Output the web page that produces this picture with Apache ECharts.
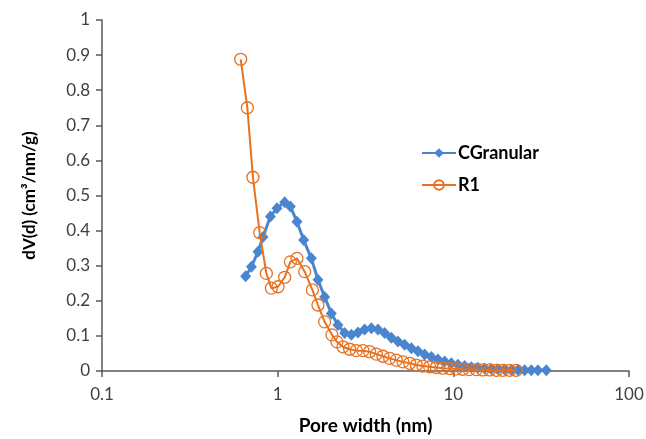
<!DOCTYPE html>
<html>
<head>
<meta charset="utf-8">
<script src="https://cdn.jsdelivr.net/npm/echarts@6/dist/echarts.min.js"></script>
<style>html,body{margin:0;padding:0;background:#fff;}#c{width:646px;height:439px;}</style>
</head>
<body>
<div id="c"></div>
<script>
const cgPoreWidth = [0.657,0.709,0.773,0.825,0.909,0.991,1.096,1.181,1.288,1.406,1.555,1.696,1.851,2.021,2.204,2.407,2.627,2.864,3.127,3.415,3.724,4.064,4.438,4.838,5.283,5.768,6.288,6.866,7.497,8.174,8.924,9.741,10.62,11.60,12.66,13.80,15.07,16.46,17.94,19.59,21.38,23.32,25.46,27.79,30.30,33.82];
const cgValues = [0.27,0.297,0.34,0.382,0.44,0.464,0.481,0.469,0.425,0.373,0.321,0.26,0.211,0.164,0.131,0.108,0.103,0.11,0.118,0.122,0.118,0.108,0.095,0.084,0.075,0.065,0.056,0.047,0.04,0.033,0.027,0.022,0.018,0.014,0.011,0.009,0.007,0.006,0.005,0.004,0.003,0.003,0.002,0.002,0.002,0.002];
const r1PoreWidth = [0.616,0.672,0.723,0.790,0.862,0.921,1.004,1.096,1.181,1.288,1.425,1.576,1.696,1.851,2.037,2.175,2.353,2.569,2.805,3.058,3.339,3.646,3.975,4.340,4.738,5.166,5.640,6.157,6.714,7.33,8.0,8.73,9.54,10.4,11.3,12.3,13.5,14.7,16.1,17.6,19.1,20.9,22.8];
const r1Values = [0.888,0.75,0.552,0.394,0.278,0.236,0.24,0.267,0.311,0.321,0.283,0.231,0.188,0.14,0.103,0.083,0.069,0.062,0.058,0.058,0.055,0.048,0.042,0.036,0.031,0.026,0.022,0.017,0.014,0.012,0.010,0.008,0.007,0.006,0.005,0.004,0.004,0.003,0.003,0.002,0.002,0.002,0.002];
const xTicks = [0.1, 1, 10, 100];
const yTicks = [0,0.1,0.2,0.3,0.4,0.5,0.6,0.7,0.8,0.9,1];
const seriesNames = ['CGranular', 'R1'];

const FONT = 'Lato, "Open Sans", sans-serif';
const AXIS_COLOR = '#595959';
const chart = echarts.init(document.getElementById('c'), null, {renderer: 'canvas'});
chart.setOption({
  animation: false,
  backgroundColor: '#fff',
  grid: {left: 102, right: 17, top: 20, bottom: 68, containLabel: false, outerBoundsMode: 'none'},
  legend: {
    orient: 'vertical', left: 416, top: 139, itemGap: 14, itemWidth: 34, itemHeight: 12,
    textStyle: {fontFamily: FONT, fontWeight: 'bold', fontSize: 18, color: '#000', padding: [0, 0, 0, -3]},
    data: seriesNames
  },
  xAxis: {
    type: 'log', logBase: 10, min: xTicks[0], max: xTicks[xTicks.length - 1],
    name: 'Pore width (nm)', nameLocation: 'middle', nameGap: 45,
    nameTextStyle: {fontFamily: FONT, fontWeight: 'bold', fontSize: 19, color: '#000'},
    axisLine: {lineStyle: {color: AXIS_COLOR, width: 1.5}},
    axisTick: {inside: false, length: 6, lineStyle: {color: AXIS_COLOR, width: 1.5}},
    minorTick: {show: false},
    splitLine: {show: false},
    axisLabel: {fontFamily: FONT, fontSize: 17, color: '#404040', margin: 15,
      formatter: v => String(+v.toPrecision(3))}
  },
  yAxis: {
    type: 'value', min: yTicks[0], max: yTicks[yTicks.length - 1], interval: 0.1,
    name: 'dV(d) (cm³/nm/g)', nameLocation: 'middle', nameGap: 64, nameRotate: 90,
    nameTextStyle: {fontFamily: FONT, fontWeight: 'bold', fontSize: 17, color: '#000'},
    axisLine: {show: true, lineStyle: {color: AXIS_COLOR, width: 1.5}},
    axisTick: {show: true, inside: false, length: 6, lineStyle: {color: AXIS_COLOR, width: 1.5}},
    splitLine: {show: false},
    axisLabel: {fontFamily: FONT, fontSize: 17, color: '#404040', margin: 12,
      formatter: v => String(+v.toFixed(1))}
  },
  series: [
    {
      name: seriesNames[0], type: 'line',
      data: cgPoreWidth.map((d, i) => [d, cgValues[i]]),
      symbol: 'diamond', symbolSize: [11, 12], showSymbol: true,
      lineStyle: {color: '#4A86CF', width: 3},
      itemStyle: {color: '#4A86CF', borderWidth: 0},
      z: 2
    },
    {
      name: seriesNames[1], type: 'line',
      data: r1PoreWidth.map((d, i) => [d, r1Values[i]]),
      symbol: 'circle', symbolSize: 12, showSymbol: true,
      lineStyle: {color: '#E8711F', width: 2},
      itemStyle: {color: 'rgba(255,255,255,0)', borderColor: '#E8711F', borderWidth: 1.3},
      z: 3
    }
  ]
});
</script>
</body>
</html>
